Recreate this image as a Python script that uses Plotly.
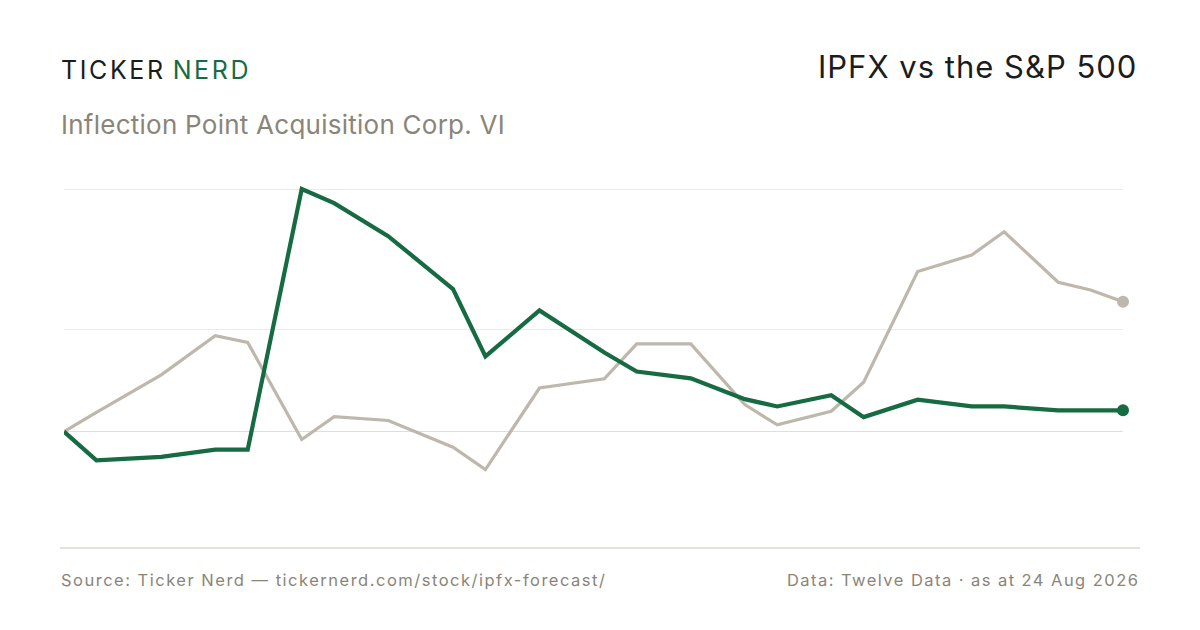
import plotly.graph_objects as go

dates = ["2026-05-18", "2026-05-21", "2026-05-27", "2026-06-01", "2026-06-04", "2026-06-09",
         "2026-06-12", "2026-06-17", "2026-06-23", "2026-06-26", "2026-07-01", "2026-07-07",
         "2026-07-10", "2026-07-15", "2026-07-20", "2026-07-23", "2026-07-28", "2026-07-31",
         "2026-08-05", "2026-08-10", "2026-08-13", "2026-08-18", "2026-08-21", "2026-08-24"]
ipfx = [0.00, -0.59, -0.52, -0.37, -0.37, 5.00, 4.71, 4.03, 2.94, 1.55, 2.50, 1.63,
        1.24, 1.10, 0.67, 0.52, 0.75, 0.30, 0.66, 0.52, 0.52, 0.44, 0.44, 0.44]
spx = [0.00, 0.40, 1.17, 1.98, 1.84, -0.16, 0.31, 0.23, -0.32, -0.78, 0.90, 1.09,
       1.81, 1.81, 0.56, 0.14, 0.42, 1.02, 3.30, 3.64, 4.12, 3.08, 2.92, 2.68]

GREEN = "#176b43"
GREY = "#bdb7ac"
MUTED = "#8a8577"
FONT = "Inter"

# the page body adds an 8px margin; compensate so the picture lands where intended
OFF = 8
W, H = 1200, 630
L, R, T, B = 64 - OFF, 1200 - 1123 + OFF, 170 - OFF, 630 - 520 + OFF
PW, PH = W - L - R, H - T - B


def px(x):
    return (x - OFF - L) / PW


def py(y):
    return (H - B - (y - OFF)) / PH


vmin = min(min(ipfx), min(spx))
vmax = max(max(ipfx), max(spx))
span = vmax - vmin
grid_vals = [0, (vmin + vmax) / 2, vmax]

fig = go.Figure()
fig.add_trace(go.Scatter(x=dates, y=spx, mode="lines", line=dict(color=GREY, width=3.2),
                         hoverinfo="skip", showlegend=False))
fig.add_trace(go.Scatter(x=[dates[-1]], y=[spx[-1]], mode="markers",
                         marker=dict(color=GREY, size=12), hoverinfo="skip",
                         showlegend=False, cliponaxis=False))
fig.add_trace(go.Scatter(x=dates, y=ipfx, mode="lines", line=dict(color=GREEN, width=4.2),
                         hoverinfo="skip", showlegend=False))
fig.add_trace(go.Scatter(x=[dates[-1]], y=[ipfx[-1]], mode="markers",
                         marker=dict(color=GREEN, size=12), hoverinfo="skip",
                         showlegend=False, cliponaxis=False))

fig.update_layout(
    width=W, height=H,
    margin=dict(l=L, r=R, t=T, b=B),
    paper_bgcolor="white", plot_bgcolor="white",
    font=dict(family=FONT, color=MUTED),
    xaxis=dict(range=[dates[0], dates[-1]], visible=False, showgrid=False, zeroline=False),
    yaxis=dict(range=[vmin - 0.18 * span, vmax + 0.068 * span], tickvals=grid_vals,
               showticklabels=False, showgrid=True, gridcolor="#ecebe5", gridwidth=1.2,
               zeroline=True, zerolinecolor="#e2ded2", zerolinewidth=1.4, showline=False),
    shapes=[dict(type="line", xref="paper", yref="paper", x0=px(60), x1=px(1140),
                 y0=py(548), y1=py(548), line=dict(color="#dcd8cd", width=1.5))],
    annotations=[
        dict(xref="paper", yref="paper", x=px(59), y=py(70), xanchor="left", yanchor="middle",
             showarrow=False,
             text='<span style="letter-spacing:2.6px">TICKER</span> '
                  '<span style="letter-spacing:2.6px;color:' + GREEN + '">NERD</span>',
             font=dict(family=FONT, size=25, color="#1c1c1c")),
        dict(xref="paper", yref="paper", x=px(59), y=py(124), xanchor="left", yanchor="middle",
             showarrow=False,
             text='<span style="letter-spacing:0.25px">Inflection Point Acquisition Corp. VI</span>',
             font=dict(family=FONT, size=26, color=MUTED)),
        dict(xref="paper", yref="paper", x=px(1139), y=py(66), xanchor="right", yanchor="middle",
             showarrow=False,
             text='<span style="letter-spacing:1px">IPFX vs the S&amp;P 500</span>',
             font=dict(family=FONT, size=31, color="#1c1c1c")),
        dict(xref="paper", yref="paper", x=px(59), y=py(580), xanchor="left", yanchor="middle",
             showarrow=False,
             text='<span style="letter-spacing:1.5px">Source: Ticker Nerd — tickernerd.com/stock/ipfx-forecast/</span>',
             font=dict(family=FONT, size=16.5, color=MUTED)),
        dict(xref="paper", yref="paper", x=px(1141), y=py(580), xanchor="right", yanchor="middle",
             showarrow=False,
             text='<span style="letter-spacing:1.45px">Data: Twelve Data · as at 24 Aug 2026</span>',
             font=dict(family=FONT, size=16.5, color=MUTED)),
    ],
)

fig.write_html("out.html")
